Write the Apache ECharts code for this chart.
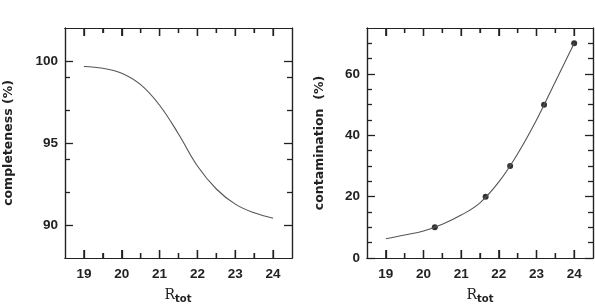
<!DOCTYPE html>
<html>
<head>
<meta charset="utf-8">
<script src="https://cdn.jsdelivr.net/npm/echarts@6/dist/echarts.min.js"></script>
<style>
  html, body { margin: 0; padding: 0; background: #fff; }
  #chart { width: 595px; height: 306px; }
</style>
</head>
<body>
<div id="chart"></div>
<script>
// magnitudes the curves are read at
const complMag = [19, 19.5, 20, 20.5, 21, 21.5, 22, 22.5, 23, 23.5, 24];
const completeness = [99.66, 99.55, 99.25, 98.55, 97.3, 95.55, 93.6, 92.2, 91.28, 90.75, 90.42];
const contamMag = [19, 19.5, 20, 20.5, 21, 21.5, 22, 22.5, 23, 23.5, 24];
const contamination = [6.3, 7.5, 8.8, 11, 14, 18, 24.8, 34, 45, 57.5, 70];

// measured points on the contamination curve
const sampleMag = [20.3, 21.65, 22.3, 23.2, 24.0];
const sampleContam = [10, 20, 30, 50, 70];

// tick positions
const xTicks = [19, 20, 21, 22, 23, 24];
const xMinorTicks = [19.5, 20.5, 21.5, 22.5, 23.5];
const complTicks = [90, 95, 100];
const complMinorTicks = [92, 94, 97, 99];
const contamTicks = [0, 20, 40, 60];
const contamMinorTicks = [5, 10, 15, 25, 30, 35, 45, 50, 55, 65, 70];

const ink = '#222';
const labelFont = { fontFamily: 'Liberation Sans', fontWeight: 'bold', fontSize: 13.5, color: ink };
const titleFont = { fontFamily: 'DejaVu Sans', fontWeight: 'bold', fontSize: 12.5, fill: ink };
const PLOT_H = 230;
const MAJOR = 8;
const MINOR = 5;

// one axis that draws inward ticks (and optionally labels) at fixed values
function tickAxis(gridIndex, position, min, max, values, length, showLabels) {
  return {
    type: 'value',
    gridIndex,
    position,
    min,
    max,
    axisLine: { show: true, onZero: false, lineStyle: { color: ink, width: 1.2 } },
    splitLine: { show: false },
    axisTick: {
      show: true,
      inside: true,
      length,
      customValues: values,
      lineStyle: { color: ink, width: 1.3 }
    },
    axisLabel: showLabels
      ? { show: true, customValues: values, margin: 9, ...labelFont }
      : { show: false }
  };
}

// inward ticks on the bottom and top frame edges, as short broken line segments
function xTickLines(xAxisIndex, yAxisIndex, yMin, yMax) {
  const perPx = (yMax - yMin) / PLOT_H;
  const data = [];
  const add = (v, len) => {
    data.push([v, yMin], [v, yMin + len * perPx], [v, '-']);
    data.push([v, yMax], [v, yMax - len * perPx], [v, '-']);
  };
  xTicks.forEach(v => add(v, MAJOR));
  xMinorTicks.forEach(v => add(v, MINOR));
  return {
    type: 'line',
    xAxisIndex,
    yAxisIndex,
    data,
    silent: true,
    symbol: 'none',
    connectNulls: false,
    clip: false,
    z: 5,
    lineStyle: { color: ink, width: 1.3 }
  };
}

const xAxes = [];
[0, 1].forEach(g => {
  xAxes.push(tickAxis(g, 'bottom', 18.5, 24.5, xTicks, MAJOR, true));
  xAxes.push(tickAxis(g, 'bottom', 18.5, 24.5, xMinorTicks, MINOR, false));
  xAxes.push(tickAxis(g, 'top', 18.5, 24.5, xTicks, MAJOR, false));
  xAxes.push(tickAxis(g, 'top', 18.5, 24.5, xMinorTicks, MINOR, false));
});

const yAxes = [
  tickAxis(0, 'left', 88, 102, complTicks, MAJOR, true),
  tickAxis(0, 'left', 88, 102, complMinorTicks, MINOR, false),
  tickAxis(0, 'right', 88, 102, complTicks, MAJOR, false),
  tickAxis(0, 'right', 88, 102, complMinorTicks, MINOR, false),
  tickAxis(1, 'left', 0, 75, contamTicks, MAJOR, true),
  tickAxis(1, 'left', 0, 75, contamMinorTicks, MINOR, false),
  tickAxis(1, 'right', 0, 75, contamTicks, MAJOR, false),
  tickAxis(1, 'right', 0, 75, contamMinorTicks, MINOR, false)
];
yAxes[0].axisLabel.margin = 7;
yAxes[4].axisLabel.margin = 7;

const rTotRich = {
  r: { fontFamily: 'DejaVu Serif', fontSize: 14, fill: ink },
  s: { fontFamily: 'DejaVu Sans', fontWeight: 'bold', fontSize: 10, fill: ink, padding: [9, 0, 0, 0] }
};

const option = {
  animation: false,
  backgroundColor: '#fff',
  grid: [
    { left: 65, top: 28, width: 227, height: PLOT_H, outerBoundsMode: 'none' },
    { left: 367, top: 28, width: 226, height: PLOT_H, outerBoundsMode: 'none' }
  ],
  xAxis: xAxes,
  yAxis: yAxes,
  graphic: [
    { type: 'text', x: 9, y: 143, rotation: Math.PI / 2,
      style: { text: 'completeness (%)', align: 'center', verticalAlign: 'middle', ...titleFont } },
    { type: 'text', x: 320, y: 143, rotation: Math.PI / 2,
      style: { text: 'contamination  (%)', align: 'center', verticalAlign: 'middle', ...titleFont } },
    { type: 'text', x: 178, y: 295,
      style: { text: '{r|R}{s|tot}', rich: rTotRich, align: 'center', verticalAlign: 'middle' } },
    { type: 'text', x: 480, y: 295,
      style: { text: '{r|R}{s|tot}', rich: rTotRich, align: 'center', verticalAlign: 'middle' } }
  ],
  series: [
    {
      type: 'line',
      xAxisIndex: 0,
      yAxisIndex: 0,
      data: complMag.map((x, i) => [x, completeness[i]]),
      smooth: 0.4,
      symbol: 'none',
      lineStyle: { color: '#555', width: 1.1 }
    },
    {
      type: 'line',
      xAxisIndex: 4,
      yAxisIndex: 4,
      data: contamMag.map((x, i) => [x, contamination[i]]),
      smooth: 0.4,
      symbol: 'none',
      lineStyle: { color: '#555', width: 1.1 }
    },
    {
      type: 'scatter',
      xAxisIndex: 4,
      yAxisIndex: 4,
      data: sampleMag.map((x, i) => [x, sampleContam[i]]),
      symbol: 'circle',
      symbolSize: 6,
      itemStyle: { color: '#000' }
    },
    xTickLines(0, 0, 88, 102),
    xTickLines(4, 4, 0, 75)
  ]
};

const chart = echarts.init(document.getElementById('chart'), null, { renderer: 'canvas' });
chart.setOption(option);
</script>
</body>
</html>
